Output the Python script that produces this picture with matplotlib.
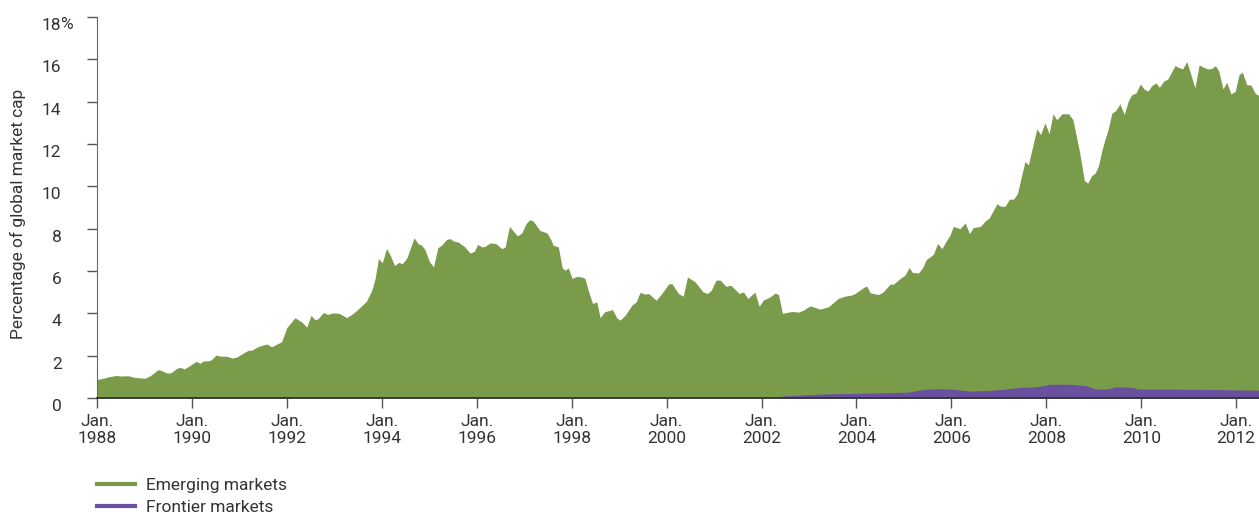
import matplotlib
matplotlib.use("Agg")
import matplotlib.pyplot as plt
import matplotlib.transforms as mtransforms
from matplotlib.lines import Line2D

plt.rcParams['font.family'] = ['Roboto', 'DejaVu Sans']

# emerging markets share of global market cap (%)
em_years = [1988.01, 1988.13, 1988.24, 1988.42, 1988.48, 1988.66, 1988.76, 1988.87,
            1989.01, 1989.12, 1989.29, 1989.36, 1989.47, 1989.56, 1989.68, 1989.76,
            1989.84, 1989.96, 1990.09, 1990.17, 1990.24, 1990.37, 1990.42, 1990.51,
            1990.59, 1990.73, 1990.85, 1990.94, 1991.05, 1991.19, 1991.26, 1991.39,
            1991.47, 1991.58, 1991.68, 1991.89, 1992.00, 1992.17, 1992.31, 1992.42,
            1992.51, 1992.59, 1992.66, 1992.77, 1992.86, 1992.97, 1993.10, 1993.26,
            1993.40, 1993.54, 1993.68, 1993.79, 1993.86, 1993.93, 1994.01, 1994.10,
            1994.17, 1994.27, 1994.36, 1994.43, 1994.53, 1994.68, 1994.77, 1994.84,
            1994.91, 1995.00, 1995.09, 1995.18, 1995.26, 1995.37, 1995.44, 1995.51,
            1995.61, 1995.75, 1995.86, 1995.95, 1996.02, 1996.11, 1996.18, 1996.28,
            1996.40, 1996.53, 1996.60, 1996.69, 1996.77, 1996.86, 1996.95, 1997.04,
            1997.12, 1997.19, 1997.33, 1997.48, 1997.57, 1997.61, 1997.72, 1997.80,
            1997.86, 1997.93, 1998.01, 1998.11, 1998.21, 1998.28, 1998.35, 1998.44,
            1998.53, 1998.60, 1998.69, 1998.86, 1998.95, 1999.02, 1999.13, 1999.27,
            1999.36, 1999.44, 1999.55, 1999.62, 1999.78, 1999.90, 2000.04, 2000.11,
            2000.25, 2000.35, 2000.44, 2000.60, 2000.77, 2000.86, 2000.94, 2001.04,
            2001.13, 2001.25, 2001.35, 2001.53, 2001.62, 2001.71, 2001.86, 2001.95,
            2002.04, 2002.18, 2002.29, 2002.36, 2002.44, 2002.64, 2002.78, 2002.88,
            2003.02, 2003.13, 2003.23, 2003.41, 2003.61, 2003.75, 2003.89, 2003.97,
            2004.17, 2004.22, 2004.29, 2004.46, 2004.55, 2004.71, 2004.78, 2004.92,
            2005.02, 2005.11, 2005.18, 2005.31, 2005.40, 2005.47, 2005.55, 2005.62,
            2005.71, 2005.80, 2005.90, 2005.97, 2006.04, 2006.18, 2006.29, 2006.38,
            2006.46, 2006.61, 2006.71, 2006.80, 2006.96, 2007.04, 2007.13, 2007.22,
            2007.31, 2007.39, 2007.55, 2007.62, 2007.80, 2007.88, 2007.97, 2008.06,
            2008.14, 2008.22, 2008.33, 2008.47, 2008.56, 2008.70, 2008.80, 2008.87,
            2008.96, 2009.03, 2009.10, 2009.17, 2009.24, 2009.31, 2009.38, 2009.46,
            2009.55, 2009.64, 2009.73, 2009.80, 2009.89, 2009.98, 2010.06, 2010.14,
            2010.22, 2010.31, 2010.38, 2010.47, 2010.56, 2010.71, 2010.78, 2010.87,
            2010.96, 2011.05, 2011.13, 2011.22, 2011.31, 2011.40, 2011.49, 2011.56,
            2011.63, 2011.72, 2011.80, 2011.89, 2011.98, 2012.06, 2012.13, 2012.22,
            2012.31, 2012.40, 2012.48]
em_values = [0.88, 0.93, 1.00, 1.07, 1.04, 1.05, 0.99, 0.96,
             0.93, 1.05, 1.34, 1.30, 1.18, 1.19, 1.40, 1.45,
             1.37, 1.54, 1.73, 1.64, 1.75, 1.76, 1.83, 2.03,
             1.98, 1.97, 1.89, 1.93, 2.08, 2.26, 2.26, 2.42,
             2.49, 2.55, 2.42, 2.66, 3.33, 3.79, 3.60, 3.35,
             3.91, 3.70, 3.75, 4.04, 3.95, 4.02, 4.00, 3.80,
             4.00, 4.28, 4.58, 5.09, 5.65, 6.59, 6.39, 7.06,
             6.79, 6.26, 6.41, 6.34, 6.62, 7.57, 7.28, 7.22,
             7.01, 6.46, 6.19, 7.10, 7.22, 7.50, 7.53, 7.42,
             7.37, 7.14, 6.85, 6.93, 7.26, 7.14, 7.17, 7.33,
             7.30, 7.06, 7.14, 8.11, 7.89, 7.66, 7.80, 8.24,
             8.43, 8.36, 7.92, 7.80, 7.45, 7.22, 7.14, 6.16,
             6.04, 6.15, 5.65, 5.75, 5.72, 5.65, 5.09, 4.47,
             4.54, 3.80, 4.07, 4.18, 3.79, 3.68, 3.92, 4.39,
             4.54, 4.99, 4.91, 4.94, 4.62, 4.94, 5.38, 5.41,
             4.94, 4.81, 5.72, 5.49, 5.01, 4.94, 5.09, 5.57,
             5.57, 5.28, 5.33, 4.94, 5.01, 4.70, 5.00, 4.34,
             4.63, 4.78, 4.96, 4.88, 4.00, 4.09, 4.06, 4.15,
             4.35, 4.28, 4.20, 4.31, 4.70, 4.81, 4.86, 4.94,
             5.25, 5.28, 4.97, 4.89, 4.99, 5.38, 5.38, 5.65,
             5.80, 6.16, 5.93, 5.91, 6.19, 6.54, 6.67, 6.79,
             7.30, 7.06, 7.45, 7.69, 8.11, 8.00, 8.27, 7.77,
             8.05, 8.11, 8.36, 8.52, 9.18, 9.06, 9.06, 9.39,
             9.40, 9.65, 11.18, 11.02, 12.72, 12.45, 13.00, 12.49,
             13.43, 13.15, 13.43, 13.43, 13.15, 11.62, 10.28, 10.15,
             10.52, 10.63, 10.99, 11.70, 12.25, 12.77, 13.46, 13.58,
             13.90, 13.40, 14.06, 14.33, 14.42, 14.84, 14.60, 14.50,
             14.76, 14.89, 14.68, 14.97, 15.08, 15.71, 15.63, 15.55,
             15.90, 15.24, 14.66, 15.74, 15.63, 15.55, 15.58, 15.71,
             15.47, 14.61, 14.92, 14.37, 14.50, 15.28, 15.40, 14.81,
             14.79, 14.40, 14.29]

# frontier markets share of global market cap (%)
fm_years = [2002.39, 2002.43, 2003.27, 2003.97, 2004.67, 2005.09, 2005.30, 2005.45,
            2005.76, 2006.04, 2006.40, 2006.75, 2007.09, 2007.45, 2007.80, 2008.08,
            2008.50, 2008.86, 2009.03, 2009.30, 2009.46, 2009.81, 2009.93, 2010.56,
            2011.13, 2011.83, 2012.48]
fm_values = [0.00, 0.09, 0.19, 0.22, 0.25, 0.28, 0.36, 0.41,
             0.44, 0.41, 0.33, 0.35, 0.41, 0.50, 0.53, 0.65,
             0.65, 0.57, 0.42, 0.43, 0.53, 0.50, 0.42, 0.42,
             0.41, 0.39, 0.37]

tick_years = list(range(1988, 2013, 2))
tick_labels = ["Jan.\n%d" % y for y in tick_years]
y_ticks = list(range(0, 19, 2))
y_labels = [str(v) for v in y_ticks]

green = "#7a9c4a"
purple = "#6a51a0"
txt = "#333333"
fs = 12.5

fig = plt.figure(figsize=(12.59, 5.14), dpi=100)
ax = fig.add_axes([0.077, 0.2257, 0.923, 0.741])

ax.fill_between(em_years, 0, em_values, color=green, linewidth=0, zorder=2)
ax.fill_between(fm_years, 0, fm_values, color=purple, linewidth=0, zorder=3)

ax.set_xlim(1988, 2012.48)
ax.set_ylim(0, 18)
ax.set_xticks(tick_years)
ax.set_xticklabels(tick_labels)
ax.set_yticks(y_ticks)
ax.set_yticklabels(y_labels)

for s in ["top", "right"]:
    ax.spines[s].set_visible(False)
ax.spines["left"].set_color("#666666")
ax.spines["bottom"].set_color("#333333")
ax.spines["bottom"].set_linewidth(1.3)
ax.spines["bottom"].set_zorder(5)

ax.tick_params(axis="x", length=7.5, width=1, color="#555555", pad=4,
               labelsize=fs, labelcolor=txt)
ax.tick_params(axis="y", length=7.5, width=1, color="#555555", pad=18,
               labelsize=fs, labelcolor=txt)

# y labels sit a little below their ticks
offset = mtransforms.ScaledTranslation(0, -0.07, fig.dpi_scale_trans)
for lab in ax.get_yticklabels():
    lab.set_transform(lab.get_transform() + offset)

ax.annotate("%", xy=(0, 18), xycoords=("axes fraction", "data"),
            xytext=(-26.3, -5), textcoords="offset points",
            ha="left", va="center", fontsize=fs, color=txt)

ax.set_ylabel("Percentage of global market cap", fontsize=fs, color=txt)
ax.yaxis.set_label_coords(-0.061, 0.483)

handles = [Line2D([], [], color=green, linewidth=3),
           Line2D([], [], color=purple, linewidth=3)]
fig.legend(handles, ["Emerging markets", "Frontier markets"],
           loc="upper left", bbox_to_anchor=(0.077, 0.071),
           frameon=False, fontsize=fs, labelcolor=txt,
           handlelength=2.2, handletextpad=0.6, labelspacing=0.42,
           borderpad=0, borderaxespad=0)

fig.savefig("out.png", dpi=100)
